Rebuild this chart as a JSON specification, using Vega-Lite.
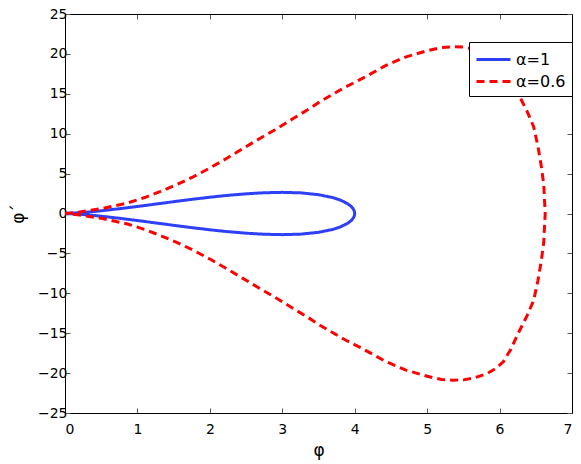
{
  "$schema": "https://vega.github.io/schema/vega-lite/v6.json",
  "autosize": "none",
  "width": 507,
  "height": 399,
  "padding": {"left": 65, "top": 14, "right": 9, "bottom": 51},
  "background": "white",
  "config": {
    "font": "DejaVu Sans",
    "view": {"stroke": null},
    "axis": {"grid": false, "domainColor": "black", "domainWidth": 1, "tickColor": "#555", "tickWidth": 1, "labelFont": "DejaVu Sans", "labelFontSize": 14, "labelColor": "black", "titleFont": "DejaVu Sans", "titleFontWeight": "normal", "titleColor": "black", "titleFontSize": 17}
  },
  "data": {"values": [
    {"s": "α=1", "i": 0, "x": 0, "y": 0},
    {"s": "α=1", "i": 1, "x": 0.25, "y": 0.12},
    {"s": "α=1", "i": 2, "x": 0.5, "y": 0.34},
    {"s": "α=1", "i": 3, "x": 0.75, "y": 0.6},
    {"s": "α=1", "i": 4, "x": 1.0, "y": 0.88},
    {"s": "α=1", "i": 5, "x": 1.25, "y": 1.18},
    {"s": "α=1", "i": 6, "x": 1.5, "y": 1.48},
    {"s": "α=1", "i": 7, "x": 1.75, "y": 1.77},
    {"s": "α=1", "i": 8, "x": 2.0, "y": 2.04},
    {"s": "α=1", "i": 9, "x": 2.25, "y": 2.28},
    {"s": "α=1", "i": 10, "x": 2.5, "y": 2.47},
    {"s": "α=1", "i": 11, "x": 2.75, "y": 2.6},
    {"s": "α=1", "i": 12, "x": 3.0, "y": 2.65},
    {"s": "α=1", "i": 13, "x": 3.25, "y": 2.59},
    {"s": "α=1", "i": 14, "x": 3.5, "y": 2.36},
    {"s": "α=1", "i": 15, "x": 3.7, "y": 1.99},
    {"s": "α=1", "i": 16, "x": 3.8, "y": 1.69},
    {"s": "α=1", "i": 17, "x": 3.9, "y": 1.24},
    {"s": "α=1", "i": 18, "x": 3.95, "y": 0.9},
    {"s": "α=1", "i": 19, "x": 3.98, "y": 0.57},
    {"s": "α=1", "i": 20, "x": 3.995, "y": 0.29},
    {"s": "α=1", "i": 21, "x": 4.0, "y": 0},
    {"s": "α=1", "i": 22, "x": 3.995, "y": -0.29},
    {"s": "α=1", "i": 23, "x": 3.98, "y": -0.57},
    {"s": "α=1", "i": 24, "x": 3.95, "y": -0.9},
    {"s": "α=1", "i": 25, "x": 3.9, "y": -1.24},
    {"s": "α=1", "i": 26, "x": 3.8, "y": -1.69},
    {"s": "α=1", "i": 27, "x": 3.7, "y": -1.99},
    {"s": "α=1", "i": 28, "x": 3.5, "y": -2.36},
    {"s": "α=1", "i": 29, "x": 3.25, "y": -2.59},
    {"s": "α=1", "i": 30, "x": 3.0, "y": -2.65},
    {"s": "α=1", "i": 31, "x": 2.75, "y": -2.6},
    {"s": "α=1", "i": 32, "x": 2.5, "y": -2.47},
    {"s": "α=1", "i": 33, "x": 2.25, "y": -2.28},
    {"s": "α=1", "i": 34, "x": 2.0, "y": -2.04},
    {"s": "α=1", "i": 35, "x": 1.75, "y": -1.77},
    {"s": "α=1", "i": 36, "x": 1.5, "y": -1.48},
    {"s": "α=1", "i": 37, "x": 1.25, "y": -1.18},
    {"s": "α=1", "i": 38, "x": 1.0, "y": -0.88},
    {"s": "α=1", "i": 39, "x": 0.75, "y": -0.6},
    {"s": "α=1", "i": 40, "x": 0.5, "y": -0.34},
    {"s": "α=1", "i": 41, "x": 0.25, "y": -0.12},
    {"s": "α=1", "i": 42, "x": 0, "y": 0},
    {"s": "α=0.6", "i": 0, "x": 0, "y": 0},
    {"s": "α=0.6", "i": 1, "x": 0.2, "y": 0.18},
    {"s": "α=0.6", "i": 2, "x": 0.5, "y": 0.6},
    {"s": "α=0.6", "i": 3, "x": 0.85, "y": 1.28},
    {"s": "α=0.6", "i": 4, "x": 1.1, "y": 2.0},
    {"s": "α=0.6", "i": 5, "x": 1.31, "y": 2.73},
    {"s": "α=0.6", "i": 6, "x": 1.55, "y": 3.65},
    {"s": "α=0.6", "i": 7, "x": 1.77, "y": 4.6},
    {"s": "α=0.6", "i": 8, "x": 2.0, "y": 5.7},
    {"s": "α=0.6", "i": 9, "x": 2.23, "y": 6.9},
    {"s": "α=0.6", "i": 10, "x": 2.45, "y": 8.1},
    {"s": "α=0.6", "i": 11, "x": 2.69, "y": 9.4},
    {"s": "α=0.6", "i": 12, "x": 2.9, "y": 10.5},
    {"s": "α=0.6", "i": 13, "x": 3.15, "y": 11.9},
    {"s": "α=0.6", "i": 14, "x": 3.35, "y": 13.0},
    {"s": "α=0.6", "i": 15, "x": 3.52, "y": 14.0},
    {"s": "α=0.6", "i": 16, "x": 3.84, "y": 15.7},
    {"s": "α=0.6", "i": 17, "x": 4.1, "y": 16.9},
    {"s": "α=0.6", "i": 18, "x": 4.44, "y": 18.6},
    {"s": "α=0.6", "i": 19, "x": 4.7, "y": 19.6},
    {"s": "α=0.6", "i": 20, "x": 5.0, "y": 20.4},
    {"s": "α=0.6", "i": 21, "x": 5.2, "y": 20.8},
    {"s": "α=0.6", "i": 22, "x": 5.36, "y": 20.9},
    {"s": "α=0.6", "i": 23, "x": 5.5, "y": 20.85},
    {"s": "α=0.6", "i": 24, "x": 5.65, "y": 20.6},
    {"s": "α=0.6", "i": 25, "x": 5.82, "y": 20.1},
    {"s": "α=0.6", "i": 26, "x": 5.95, "y": 19.4},
    {"s": "α=0.6", "i": 27, "x": 6.05, "y": 18.6},
    {"s": "α=0.6", "i": 28, "x": 6.15, "y": 17.1},
    {"s": "α=0.6", "i": 29, "x": 6.28, "y": 14.6},
    {"s": "α=0.6", "i": 30, "x": 6.38, "y": 12.8},
    {"s": "α=0.6", "i": 31, "x": 6.47, "y": 10.9},
    {"s": "α=0.6", "i": 32, "x": 6.53, "y": 8.4},
    {"s": "α=0.6", "i": 33, "x": 6.58, "y": 5.7},
    {"s": "α=0.6", "i": 34, "x": 6.61, "y": 3.6},
    {"s": "α=0.6", "i": 35, "x": 6.63, "y": 0},
    {"s": "α=0.6", "i": 36, "x": 6.61, "y": -3.6},
    {"s": "α=0.6", "i": 37, "x": 6.58, "y": -5.7},
    {"s": "α=0.6", "i": 38, "x": 6.53, "y": -8.4},
    {"s": "α=0.6", "i": 39, "x": 6.47, "y": -10.9},
    {"s": "α=0.6", "i": 40, "x": 6.38, "y": -12.8},
    {"s": "α=0.6", "i": 41, "x": 6.28, "y": -14.6},
    {"s": "α=0.6", "i": 42, "x": 6.15, "y": -17.1},
    {"s": "α=0.6", "i": 43, "x": 6.05, "y": -18.6},
    {"s": "α=0.6", "i": 44, "x": 5.95, "y": -19.4},
    {"s": "α=0.6", "i": 45, "x": 5.82, "y": -20.1},
    {"s": "α=0.6", "i": 46, "x": 5.65, "y": -20.6},
    {"s": "α=0.6", "i": 47, "x": 5.5, "y": -20.85},
    {"s": "α=0.6", "i": 48, "x": 5.36, "y": -20.9},
    {"s": "α=0.6", "i": 49, "x": 5.2, "y": -20.8},
    {"s": "α=0.6", "i": 50, "x": 5.0, "y": -20.4},
    {"s": "α=0.6", "i": 51, "x": 4.7, "y": -19.6},
    {"s": "α=0.6", "i": 52, "x": 4.44, "y": -18.6},
    {"s": "α=0.6", "i": 53, "x": 4.1, "y": -16.9},
    {"s": "α=0.6", "i": 54, "x": 3.84, "y": -15.7},
    {"s": "α=0.6", "i": 55, "x": 3.52, "y": -14.0},
    {"s": "α=0.6", "i": 56, "x": 3.35, "y": -13.0},
    {"s": "α=0.6", "i": 57, "x": 3.15, "y": -11.9},
    {"s": "α=0.6", "i": 58, "x": 2.9, "y": -10.5},
    {"s": "α=0.6", "i": 59, "x": 2.69, "y": -9.4},
    {"s": "α=0.6", "i": 60, "x": 2.45, "y": -8.1},
    {"s": "α=0.6", "i": 61, "x": 2.23, "y": -6.9},
    {"s": "α=0.6", "i": 62, "x": 2.0, "y": -5.7},
    {"s": "α=0.6", "i": 63, "x": 1.77, "y": -4.6},
    {"s": "α=0.6", "i": 64, "x": 1.55, "y": -3.65},
    {"s": "α=0.6", "i": 65, "x": 1.31, "y": -2.73},
    {"s": "α=0.6", "i": 66, "x": 1.1, "y": -2.0},
    {"s": "α=0.6", "i": 67, "x": 0.85, "y": -1.28},
    {"s": "α=0.6", "i": 68, "x": 0.5, "y": -0.6},
    {"s": "α=0.6", "i": 69, "x": 0.2, "y": -0.18},
    {"s": "α=0.6", "i": 70, "x": 0, "y": 0}
  ]},
  "layer": [
    {
      "transform": [{"filter": "datum.s === 'α=1'"}],
      "mark": {"type": "line", "strokeWidth": 3, "strokeJoin": "round"},
      "encoding": {
        "x": {"field": "x", "type": "quantitative", "scale": {"domain": [0, 7], "nice": false, "zero": false},
              "axis": {"orient": "bottom", "title": "φ", "values": [0,1,2,3,4,5,6,7], "tickSize": -5, "labelPadding": 14, "titlePadding": 6}},
        "y": {"field": "y", "type": "quantitative", "scale": {"domain": [-25, 25], "nice": false, "zero": false},
              "axis": {"orient": "left", "title": "φ´", "values": [-25,-20,-15,-10,-5,0,5,10,15,20,25], "tickSize": -5, "labelPadding": 3, "titlePadding": 10}},
        "order": {"field": "i", "type": "quantitative"},
        "color": {"field": "s", "type": "nominal", "scale": {"domain": ["α=1", "α=0.6"], "range": ["#2e40f5", "#ff0000"]},
                  "legend": {"orient": "none", "legendX": 404, "legendY": 28, "title": null, "strokeColor": "black", "fillColor": "white", "padding": 6, "labelFontSize": 16, "labelFont": "DejaVu Sans", "labelColor": "black", "symbolType": "M-1.7,0L1.7,0", "symbolSize": 400, "symbolStrokeWidth": 3, "symbolOffset": 7, "rowPadding": 2, "labelOffset": 11, "cornerRadius": 0}},
        "strokeDash": {"field": "s", "type": "nominal", "scale": {"domain": ["α=1", "α=0.6"], "range": [[1, 0], [8, 5]]}, "legend": null}
      }
    },
    {
      "transform": [{"filter": "datum.s === 'α=0.6'"}],
      "mark": {"type": "line", "strokeWidth": 3, "strokeJoin": "round"},
      "encoding": {
        "x": {"field": "x", "type": "quantitative", "axis": {"orient": "top", "title": null, "labels": false, "values": [0,1,2,3,4,5,6,7], "tickSize": -5}},
        "y": {"field": "y", "type": "quantitative", "axis": {"orient": "right", "title": null, "labels": false, "values": [-25,-20,-15,-10,-5,0,5,10,15,20,25], "tickSize": -5}},
        "order": {"field": "i", "type": "quantitative"},
        "color": {"field": "s", "type": "nominal"},
        "strokeDash": {"field": "s", "type": "nominal"}
      }
    }
  ],
  "resolve": {"axis": {"x": "independent", "y": "independent"}}
}
